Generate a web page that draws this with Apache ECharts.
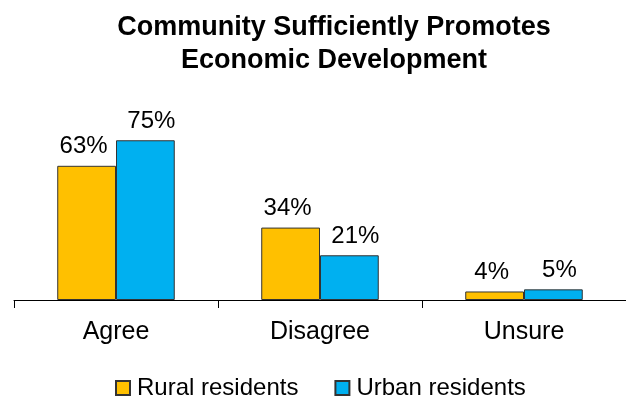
<!DOCTYPE html>
<html>
<head>
<meta charset="utf-8">
<script src="https://cdn.jsdelivr.net/npm/echarts@6/dist/echarts.min.js"></script>
<style>
html,body{margin:0;padding:0;background:#fff;}
#chart{width:626px;height:405px;}
</style>
</head>
<body>
<div id="chart"></div>
<script>
// Survey responses by residence type
const categories = ['Agree', 'Disagree', 'Unsure'];
const ruralValues = [63, 34, 4];
const urbanValues = [75, 21, 5];
const seriesNames = ['Rural residents', 'Urban residents'];

const FONT = '"Liberation Sans", Arial, sans-serif';
const chart = echarts.init(document.getElementById('chart'));

function valueLabel(dx) {
  return {
    show: true,
    position: 'top',
    distance: 7,
    offset: [dx, 0],
    formatter: p => p.value + '%',
    color: '#000',
    fontFamily: FONT,
    fontSize: 24
  };
}

chart.setOption({
  animation: false,
  title: {
    text: 'Community Sufficiently Promotes\nEconomic Development',
    left: 329,
    top: 6,
    textAlign: 'center',
    textStyle: {
      fontFamily: FONT,
      fontWeight: 'bold',
      fontSize: 27,
      lineHeight: 33,
      color: '#000'
    }
  },
  legend: {
    bottom: 0,
    left: 110,
    itemWidth: 14,
    itemHeight: 14,
    itemGap: 36,
    icon: 'rect',
    textStyle: { fontFamily: FONT, fontSize: 24, color: '#000', padding: [0, 0, 0, 2] },
    data: seriesNames
  },
  grid: { left: 14, right: -3, top: 87, bottom: 105, containLabel: false },
  xAxis: {
    type: 'category',
    data: categories,
    axisLine: { lineStyle: { color: '#000', width: 1 } },
    axisTick: { show: true, length: 8, lineStyle: { color: '#000' } },
    axisLabel: { fontFamily: FONT, fontSize: 25, color: '#000', margin: 20 }
  },
  yAxis: {
    type: 'value',
    min: 0,
    max: 100,
    show: false,
    splitLine: { show: false }
  },
  series: [
    {
      name: seriesNames[0],
      type: 'bar',
      data: ruralValues,
      barGap: '0%',
      barCategoryGap: '42.4%',
      itemStyle: { color: '#FFC000', borderColor: '#333', borderWidth: 1 },
      label: valueLabel(-3)
    },
    {
      name: seriesNames[1],
      type: 'bar',
      data: urbanValues,
      itemStyle: { color: '#00B0F0', borderColor: '#333', borderWidth: 1 },
      label: valueLabel(6)
    }
  ]
});
</script>
</body>
</html>
